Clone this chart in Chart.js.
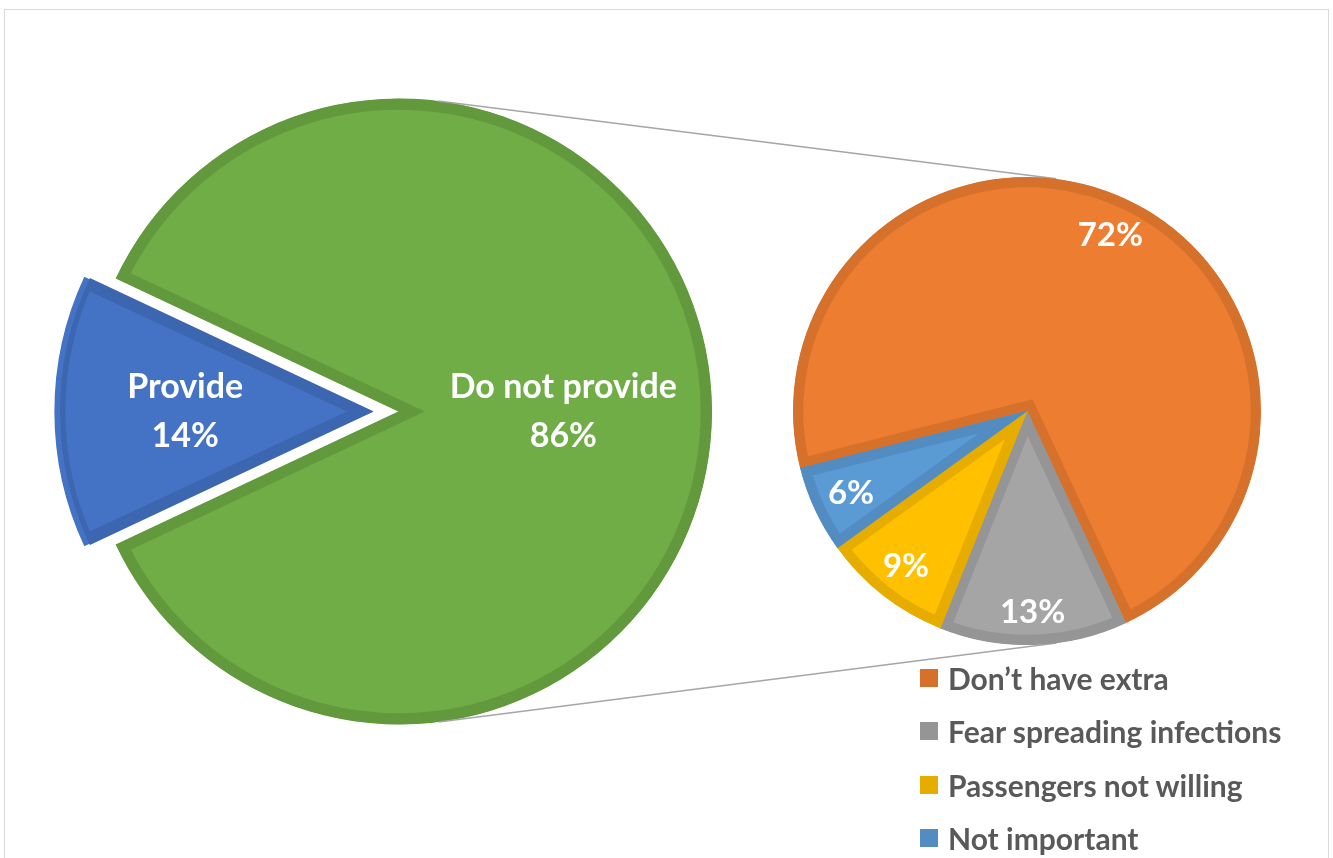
<!DOCTYPE html>
<html>
<head>
<meta charset="utf-8">
<title>Extra supply provision</title>
<script src="https://cdn.jsdelivr.net/npm/chart.js@4.4.1/dist/chart.umd.min.js"></script>
<style>
  body { margin: 0; background: #fff; }
  #wrap { position: relative; width: 1333px; height: 858px; overflow: hidden; }
  #frame { position: absolute; left: 4px; top: 9px; width: 1323px; height: 880px; border: 1px solid #d9d9d9; }
  canvas { position: absolute; left: 0; top: 0; }
  #legend { position: absolute; left: 920px; top: 651px; font: bold 30px Lato, sans-serif; color: #595959; }
  .item { display: flex; align-items: center; height: 53.5px; white-space: nowrap; }
  .box { width: 18px; height: 18px; margin-right: 10px; flex: none; }
</style>
</head>
<body>
<div id="wrap">
  <div id="frame"></div>
  <canvas id="mainPie" width="1333" height="858"></canvas>
  <canvas id="reasonPie" width="1333" height="858"></canvas>
  <div id="legend"></div>
</div>
<script>
'use strict';

// ***** DATA *****
const mainLabels = ['Provide', 'Do not provide'];
const mainValues = [14, 86];

const reasonLabels = ['Don\u2019t have extra', 'Fear spreading infections', 'Passengers not willing', 'Not important'];
const reasonValues = [72, 13, 9, 6];

// ***** COLOURS *****
const mainFill = ['#4472C4', '#70AD47'];
const mainEdge = ['#3D66B0', '#62993D'];
const reasonFill = ['#ED7D31', '#A5A5A5', '#FFC000', '#5B9BD5'];
const reasonEdge = ['#D6712C', '#959595', '#E6AD00', '#528CC0'];

Chart.defaults.font.family = 'Lato, sans-serif';

// writes the percent (and optionally the name) inside each slice
const sliceLabels = {
  id: 'sliceLabels',
  afterDatasetsDraw(chart, args, opts) {
    const ctx = chart.ctx;
    const ds = chart.data.datasets[0];
    const meta = chart.getDatasetMeta(0);
    ctx.save();
    ctx.fillStyle = opts.color;
    ctx.font = opts.font;
    ctx.textAlign = 'center';
    ctx.textBaseline = 'middle';
    meta.data.forEach((arc, i) => {
      const mid = (arc.startAngle + arc.endAngle) / 2;
      const shift = (arc.options.offset || 0) / 4;
      const r = shift + arc.outerRadius * opts.radius[i];
      const x = arc.x + Math.cos(mid) * r;
      const y = arc.y + Math.sin(mid) * r;
      const lines = opts.showName ? [chart.data.labels[i], ds.data[i] + '%'] : [ds.data[i] + '%'];
      lines.forEach((t, k) => {
        ctx.fillText(t, x, y + (k - (lines.length - 1) / 2) * opts.lineHeight);
      });
    });
    ctx.restore();
  }
};

// ***** MAIN PIE *****
const mainChart = new Chart(document.getElementById('mainPie'), {
  type: 'pie',
  data: {
    labels: mainLabels,
    datasets: [{
      data: mainValues,
      backgroundColor: mainFill,
      borderColor: mainEdge,
      borderWidth: 11,
      borderAlign: 'inner',
      borderJoinStyle: 'miter',
      offset: [104, 0]
    }]
  },
  options: {
    responsive: false,
    animation: false,
    rotation: 244.8,
    radius: 313,
    layout: { padding: { left: 0, top: 0, right: 535, bottom: 35 } },
    plugins: {
      legend: { display: false },
      tooltip: { enabled: false },
      sliceLabels: { color: '#fff', font: 'bold 34px Lato, sans-serif', lineHeight: 49, radius: [0.6, 0.525], showName: true }
    }
  },
  plugins: [sliceLabels]
});

// tangent lines joining the two pies
const connectors = {
  id: 'connectors',
  beforeDatasetsDraw(chart) {
    const a = mainChart.getDatasetMeta(0).data[1];
    const b = chart.getDatasetMeta(0).data[0];
    const dx = b.x - a.x;
    const dy = b.y - a.y;
    const base = Math.atan2(dy, dx);
    const t = Math.acos((a.outerRadius - b.outerRadius) / Math.hypot(dx, dy));
    const ctx = chart.ctx;
    ctx.save();
    ctx.strokeStyle = '#a6a6a6';
    ctx.lineWidth = 1.5;
    [base - t, base + t].forEach(ang => {
      ctx.beginPath();
      ctx.moveTo(a.x + Math.cos(ang) * a.outerRadius, a.y + Math.sin(ang) * a.outerRadius);
      ctx.lineTo(b.x + Math.cos(ang) * b.outerRadius, b.y + Math.sin(ang) * b.outerRadius);
      ctx.stroke();
    });
    ctx.restore();
  }
};

// ***** BREAKDOWN PIE *****
new Chart(document.getElementById('reasonPie'), {
  type: 'pie',
  data: {
    labels: reasonLabels,
    datasets: [{
      data: reasonValues,
      backgroundColor: reasonFill,
      borderColor: reasonEdge,
      borderWidth: 10,
      borderAlign: 'inner',
      borderJoinStyle: 'miter'
    }]
  },
  options: {
    responsive: false,
    animation: false,
    rotation: 255.8,
    radius: 234,
    layout: { padding: { left: 721, top: 0, right: 0, bottom: 36 } },
    plugins: {
      legend: { display: false },
      tooltip: { enabled: false },
      sliceLabels: { color: '#fff', font: 'bold 33px Lato, sans-serif', lineHeight: 48, radius: [0.83, 0.86, 0.84, 0.83], showName: false }
    }
  },
  plugins: [connectors, sliceLabels]
});

// ***** LEGEND *****
const legendElem = document.getElementById('legend');
reasonLabels.forEach((name, i) => {
  const row = document.createElement('div');
  row.className = 'item';
  const box = document.createElement('span');
  box.className = 'box';
  box.style.background = reasonEdge[i];
  const txt = document.createElement('span');
  txt.textContent = name;
  row.appendChild(box);
  row.appendChild(txt);
  legendElem.appendChild(row);
});
</script>
</body>
</html>
